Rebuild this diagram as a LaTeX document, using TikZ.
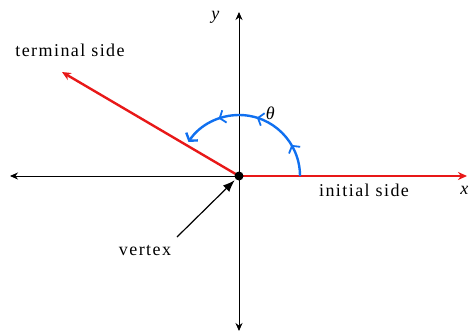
\documentclass[tikz,border=0pt]{standalone}
\usepackage{fontspec}
\setmainfont{Liberation Serif}[LetterSpace=8]
\usetikzlibrary{arrows.meta,decorations.markings}
\definecolor{SideRed}{RGB}{232,24,24}
\definecolor{ArcBlue}{RGB}{16,112,240}
\tikzset{
  axisline/.style={draw=black,line width=0.9pt},
  sideline/.style={draw=SideRed,line width=2.4pt,-{Stealth[length=9pt,width=8pt]}},
  arcline/.style={draw=ArcBlue,line width=2.4pt,-{Straight Barb[length=5pt,width=14pt]},
    postaction={decorate},decoration={markings,
      mark=at position 0.21 with {\arrow{Straight Barb[length=5pt,width=13pt,line width=1.8pt]}},
      mark=at position 0.50 with {\arrow{Straight Barb[length=5pt,width=13pt,line width=1.8pt]}},
      mark=at position 0.75 with {\arrow{Straight Barb[length=5pt,width=13pt,line width=1.8pt]}}}},
  lbl/.style={font=\fontsize{18}{20}\selectfont,inner sep=1pt}
}
\begin{document}
\begin{tikzpicture}[x=1pt,y=1pt,>={Stealth[length=8pt,width=7pt]}]
\useasboundingbox (-239,-159) rectangle (232,176);
\coordinate (o) at (0,0);\coordinate (xl) at (-229,0);\coordinate (xr) at (228,0);
\coordinate (yt) at (0,164);\coordinate (yb) at (0,-155);
\coordinate (term) at (-177,104);\coordinate (vtail) at (-62,-61);
\draw[axisline,->] (o) -- (xl);\draw[axisline,<->] (yb) -- (yt);
\draw[sideline] (o) -- (xr);\draw[sideline] (o) -- (term);
\draw[arcline] ([shift={(0:61)}]o) arc[start angle=0,end angle=146,radius=61];
\fill (o) circle (4.5);
\draw[line width=1.2pt,-{Latex[length=12pt,width=9pt]},shorten >=6pt] (vtail) -- (o);
\node[lbl] (ylab) at (-23,159) {\textit{y}};
\node[lbl] (xlab) at (226,-14) {\textit{x}};
\node[lbl] (theta) at (32,63) {\textit{θ}};
\node[lbl] (tside) at (-169,126) {terminal side};
\node[lbl] (iside) at (125,-14) {initial side};
\node[lbl] (vtx) at (-94,-75) {vertex};
\end{tikzpicture}
\end{document}
